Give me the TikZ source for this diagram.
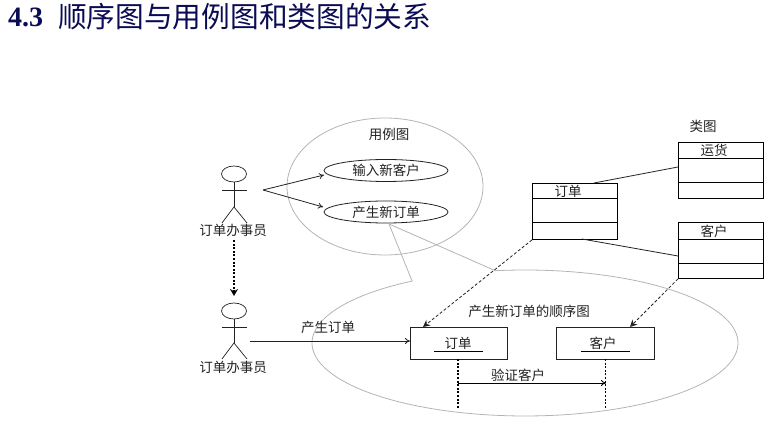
\documentclass[tikz,border=0pt]{standalone}
\usepackage{fontspec}
\setmainfont{Noto Sans CJK SC}
\newfontfamily\latinbold{Liberation Serif}[BoldFont={Liberation Serif Bold}]
\usetikzlibrary{shapes.geometric,arrows.meta}
\definecolor{ink}{HTML}{222222}
\definecolor{soft}{HTML}{B4B4B4}
\definecolor{titleblue}{HTML}{0B0B55}
\tikzset{
  lbl/.style={inner sep=0pt,text=ink,font=\fontsize{13.5}{14}\selectfont},
  usecase/.style={draw=ink,line width=0.8pt,ellipse,minimum width=124pt,minimum height=22pt,inner sep=0pt,text=ink,font=\fontsize{13.5}{14}\selectfont},
  head/.style={draw=ink,line width=0.7pt,ellipse,minimum width=25pt,minimum height=16pt,inner sep=0pt},
  bound/.style={draw=soft,line width=0.8pt},
  limb/.style={draw=ink,line width=0.7pt},
  boxline/.style={draw=black,line width=0.9pt},
  classbox/.style={draw=black,line width=0.9pt,minimum width=85pt,inner sep=0pt,anchor=north west},
  seqbox/.style={draw=ink,line width=0.9pt,inner sep=0pt,anchor=north west,minimum height=32pt},
  link/.style={draw=ink,line width=0.8pt},
  openarrow/.style={draw=ink,line width=0.8pt,-{To[length=5pt,width=6pt]}},
  depends/.style={draw=ink,line width=0.8pt,dash pattern=on 3pt off 2pt,-{Stealth[length=7pt,width=7pt]}},
  lifeline/.style={draw=black,line width=1.2pt,dash pattern=on 2pt off 1.6pt},
}
\begin{document}
\begin{tikzpicture}[x=1pt,y=-1pt]
\useasboundingbox (0,0) rectangle (780,427);
% title
\node[anchor=west,inner sep=0pt,text=titleblue,font=\latinbold\bfseries\fontsize{28}{30}\selectfont] (t1) at (8,17) {4.3};
\node[anchor=west,inner sep=0pt,text=titleblue,font=\fontsize{28.7}{30}\selectfont] (t2) at (58,16.3) {顺序图与用例图和类图的关系};
% use case boundary
\node[bound,ellipse,minimum width=196pt,minimum height=137pt,inner sep=0pt] (ucb) at (385,186.5) {};
\node[lbl] (uct) at (389,134) {用例图};
\node[usecase] (uc1) at (386,170.5) {输入新客户};
\node[usecase] (uc2) at (386,212) {产生新订单};
% sequence boundary with callout
\coordinate (tip) at (389,224);
\draw[bound] (tip) -- plot[domain=122:458,samples=160] ({525+213*cos(\x)},{343-73*sin(\x)}) -- cycle;
\node[lbl] (sqt) at (529,311) {产生新订单的顺序图};
% actor 1
\node[head] (h1) at (234,174) {};
\coordinate (s1l) at (222,190); \coordinate (s1r) at (247,190);
\coordinate (hip1) at (234,207); \coordinate (f1l) at (222,223); \coordinate (f1r) at (247,223);
\draw[limb] (s1l) -- (s1r); \draw[limb] (h1.south) -- (hip1); \draw[limb] (f1l) -- (hip1) -- (f1r);
\node[lbl] (a1) at (233,230.5) {订单办事员};
% actor 2
\node[head] (h2) at (234,311) {};
\coordinate (s2l) at (222,327); \coordinate (s2r) at (247,327);
\coordinate (hip2) at (234,343); \coordinate (f2l) at (222,359); \coordinate (f2r) at (247,359);
\draw[limb] (s2l) -- (s2r); \draw[limb] (h2.south) -- (hip2); \draw[limb] (f2l) -- (hip2) -- (f2r);
\node[lbl] (a2) at (233,367) {订单办事员};
% actor arrows
\coordinate (from1) at (263,190);
\coordinate (uc1e) at (324,175); \coordinate (uc2e) at (323,207);
\draw[openarrow] (from1) -- (uc1e);
\draw[openarrow] (from1) -- (uc2e);
\coordinate (d1) at (234,240); \coordinate (d2) at (234,296);
\draw[draw=black,line width=1.3pt,dash pattern=on 2pt off 1.6pt,-{Stealth[length=7pt,width=8pt]}] (d1) -- (d2);
% class boxes
\node[classbox,minimum height=56pt] (cy) at (678,142) {};
\draw[boxline] (678,158) -- (763,158); \draw[boxline] (678,182) -- (763,182);
\node[lbl,anchor=center] (cyt) at (714,150.5) {运货};
\node[classbox,minimum height=56pt] (ck) at (678,222) {};
\draw[boxline] (678,239) -- (763,239); \draw[boxline] (678,263) -- (763,263);
\node[lbl] (ckt) at (714,231) {客户};
\node[classbox,minimum height=56pt] (cd) at (532,183) {};
\draw[boxline] (532,198) -- (617,198); \draw[boxline] (532,222) -- (617,222);
\node[lbl] (cdt) at (568,191.5) {订单};
\node[lbl] (cat) at (703,126) {类图};
\coordinate (cdTop) at (594,183); \coordinate (cyL) at (678,167);
\coordinate (cdBot) at (582,239); \coordinate (ckL) at (678,256);
\draw[link] (cdTop) -- (cyL);
\draw[link] (cdBot) -- (ckL);
% sequence boxes
\node[seqbox,minimum width=97pt] (so) at (410,327) {};
\node[seqbox,minimum width=98pt] (sk) at (556,327) {};
\node[lbl] (sot) at (458,343) {订单};
\node[lbl] (skt) at (603,343) {客户};
\draw[boxline] (434,351) -- (483,351);
\draw[boxline] (581,351) -- (630,351);
% dependencies
\coordinate (soT) at (423,327); \coordinate (skT) at (630,327);
\draw[depends] (cd.south west) -- (soT);
\draw[depends] (ck.south west) -- (skT);
% message
\coordinate (m1) at (250,341);
\draw[openarrow] (m1) -- (so.west |- m1);
\node[lbl] (ml) at (328,327) {产生订单};
% lifelines
\coordinate (l1) at (458,359); \coordinate (l1b) at (458,408);
\coordinate (l2) at (605,359); \coordinate (l2b) at (605,408);
\draw[lifeline] (l1) -- (l1b);
\draw[lifeline,line width=1pt] (l2) -- (l2b);
\coordinate (v1) at (458,383); \coordinate (v2) at (606,383);
\draw[openarrow,draw=black] (v1) -- (v2);
\node[lbl] (vl) at (518,375) {验证客户};
\end{tikzpicture}
\end{document}
